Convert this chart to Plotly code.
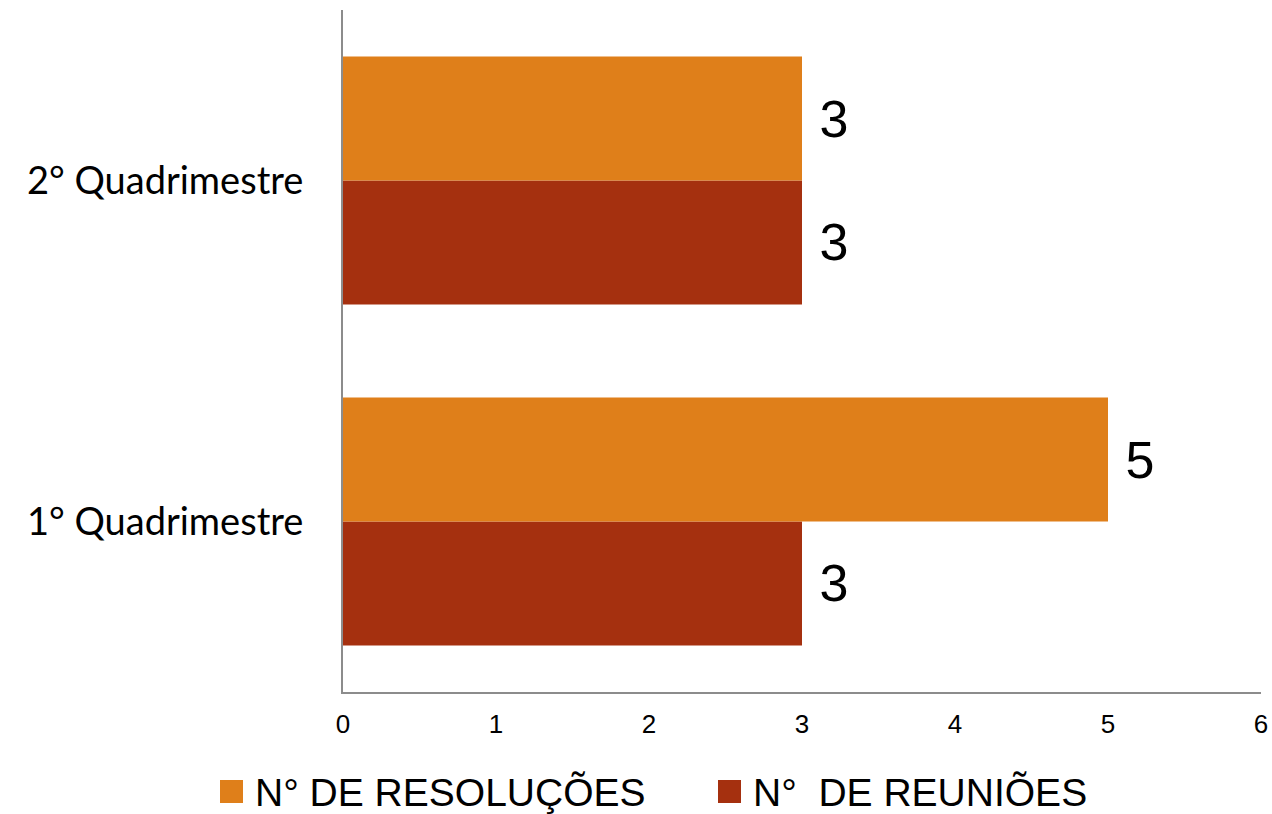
import plotly.graph_objects as go

categories = ["1° Quadrimestre", "2° Quadrimestre"]
series_names = ["N° DE RESOLUÇÕES", "N°  DE REUNIÕES"]
resolucoes = [5, 3]
reunioes = [3, 3]
x_ticks = [0, 1, 2, 3, 4, 5, 6]

colors = ["#DF7F1A", "#A5300F"]

fig = go.Figure()
# second trace is drawn on top within a group for horizontal bars
fig.add_trace(go.Bar(
    y=categories, x=reunioes, orientation="h", name=series_names[1],
    marker=dict(color=colors[1], line=dict(width=0)),
    text=reunioes, texttemplate=" %{x}", textposition="outside",
    textfont=dict(family="Liberation Sans, Arial", size=52, color="#000000"),
    cliponaxis=False, showlegend=False,
))
fig.add_trace(go.Bar(
    y=categories, x=resolucoes, orientation="h", name=series_names[0],
    marker=dict(color=colors[0], line=dict(width=0)),
    text=resolucoes, texttemplate=" %{x}", textposition="outside",
    textfont=dict(family="Liberation Sans, Arial", size=52, color="#000000"),
    cliponaxis=False, showlegend=False,
))

fig.update_layout(
    width=1272, height=814,
    margin=dict(l=343, r=11, t=10, b=122, autoexpand=False),
    paper_bgcolor="white", plot_bgcolor="white",
    barmode="group", bargap=0.273, bargroupgap=0,
    font=dict(family="Lato, Liberation Sans", color="#000000"),
    uniformtext=dict(mode=False),
)
fig.update_xaxes(
    range=[0, 6], tickvals=x_ticks, ticktext=[str(v) for v in x_ticks],
    showgrid=False, zeroline=False, showline=True, linecolor="#8C8C8C", linewidth=2,
    ticks="", tickfont=dict(family="Liberation Sans", size=26),
    ticklabelstandoff=8, automargin=False,
)
fig.update_yaxes(
    showgrid=False, zeroline=False, showline=True, linecolor="#8C8C8C", linewidth=2,
    ticks="", tickfont=dict(family="Lato, Liberation Sans", size=38),
    ticklabelstandoff=30, automargin=False,
)

# manual legend
legend_items = [(series_names[0], colors[0], 220), (series_names[1], colors[1], 718)]
for name, col, x0 in legend_items:
    fig.add_shape(type="rect", xref="paper", yref="paper",
                  x0=(x0 - 343) / 918, x1=(x0 + 23 - 343) / 918,
                  y0=(692 - 803) / 682, y1=(692 - 780) / 682,
                  fillcolor=col, line=dict(width=0))
    fig.add_annotation(text=name, xref="paper", yref="paper",
                       x=(x0 + 33 - 343) / 918, y=(692 - 792) / 682,
                       xanchor="left", yanchor="middle", showarrow=False,
                       font=dict(family="Liberation Sans", size=39, color="#000000"))

fig.write_html("out.html", config={"displayModeBar": False},
               post_script="document.body.style.margin='0';document.body.style.overflow='hidden';")
